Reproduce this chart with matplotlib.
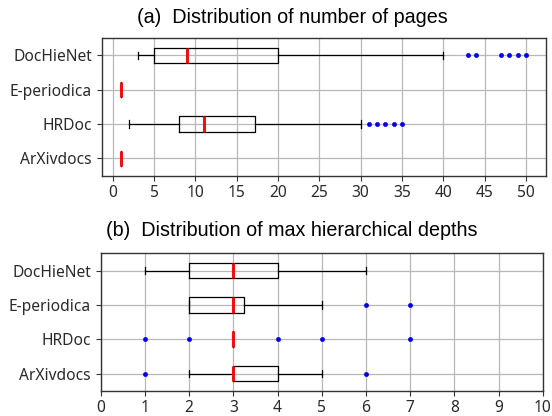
import matplotlib
matplotlib.use("Agg")
import matplotlib.pyplot as plt

categories = ["ArXivdocs", "HRDoc", "E-periodica", "DocHieNet"]

# (a) number of pages: [whislo, q1, med, q3, whishi]
pages_whislo = [1, 2, 1, 3]
pages_q1 = [1, 8, 1, 5]
pages_med = [1, 11, 1, 9]
pages_q3 = [1, 17.2, 1, 20]
pages_whishi = [1, 30, 1, 40]
pages_fliers = [[], [31, 32, 33, 34, 35], [], [43, 44, 47, 48, 49, 50]]
pages_ticks = list(range(0, 55, 5))

# (b) max hierarchical depth
depth_whislo = [2, 3, 2, 1]
depth_q1 = [3, 3, 2, 2]
depth_med = [3, 3, 3, 3]
depth_q3 = [4, 3, 3.25, 4]
depth_whishi = [5, 3, 5, 6]
depth_fliers = [[1, 6], [1, 2, 4, 5, 7], [6, 7], []]
depth_ticks = list(range(0, 11))

title_a = "(a)  Distribution of number of pages"
title_b = "(b)  Distribution of max hierarchical depths"

plt.rcParams['font.family'] = ['Noto Sans', 'DejaVu Sans']

fig = plt.figure(figsize=(5.52, 4.16), dpi=100)
ax1 = fig.add_axes([0.184, 0.578, 0.8046, 0.330])
ax2 = fig.add_axes([0.1824, 0.0608, 0.8010, 0.3302])


def make_stats(lo, q1, med, q3, hi, fl):
    out = []
    for i, lab in enumerate(categories):
        out.append(dict(label=lab, whislo=lo[i], q1=q1[i], med=med[i],
                        q3=q3[i], whishi=hi[i], fliers=fl[i]))
    return out


common = dict(
    vert=False, widths=0.45, showfliers=True,
    boxprops=dict(color='black', linewidth=0.9),
    whiskerprops=dict(color='black', linewidth=0.9),
    capprops=dict(color='black', linewidth=0.9),
    medianprops=dict(color='#ee1111', linewidth=2.2),
    flierprops=dict(marker='o', markersize=3.2, markerfacecolor='#0000ee',
                    markeredgecolor='#0000ee', markeredgewidth=0.3),
)

ax1.bxp(make_stats(pages_whislo, pages_q1, pages_med, pages_q3, pages_whishi, pages_fliers), **common)
ax2.bxp(make_stats(depth_whislo, depth_q1, depth_med, depth_q3, depth_whishi, depth_fliers), **common)

ax1.set_xlim(-1.35, 52.4)
ax1.set_xticks(pages_ticks)
ax2.set_xlim(0, 10)
ax2.set_xticks(depth_ticks)

for ax in (ax1, ax2):
    ax.set_ylim(0.5, 4.5)
    ax.set_axisbelow(True)
    ax.grid(True, color='#b8b8b8', linewidth=0.9)
    ax.tick_params(labelsize=11.2, colors='#333333', labelcolor='#2a2a2a')
    for sp in ax.spines.values():
        sp.set_color('#333333')
        sp.set_linewidth(1.0)

fig.text(0.529, 1 - 23.3 / 416, title_a, ha='center', va='baseline',
         fontsize=14.2, family=['Liberation Sans', 'DejaVu Sans'])
fig.text(0.529, 1 - 235.7 / 416, title_b, ha='center', va='baseline',
         fontsize=14.2, family=['Liberation Sans', 'DejaVu Sans'])

fig.savefig("out.png", dpi=100)
